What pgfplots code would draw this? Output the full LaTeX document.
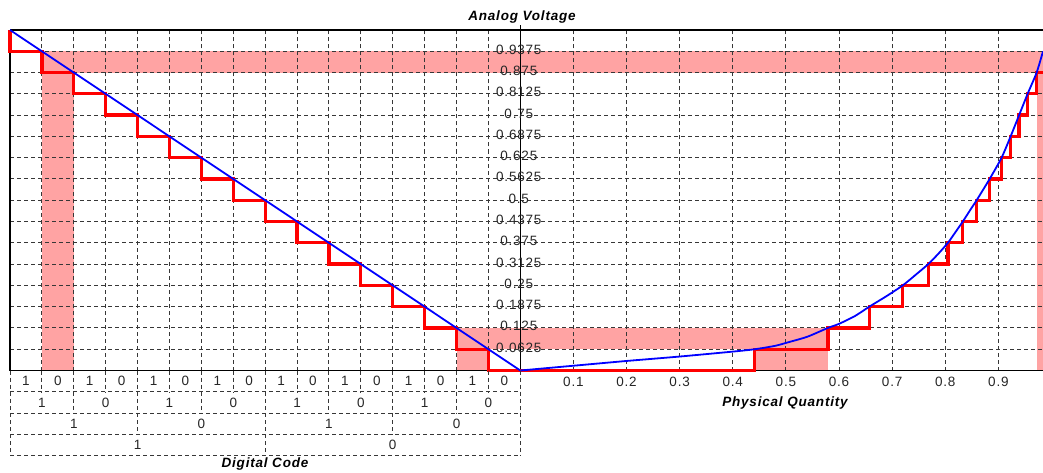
\documentclass[border=0pt]{standalone}
\usepackage{pgfplots}
\pgfplotsset{compat=1.18}
\usepackage{fontspec}
\setmainfont{Liberation Sans}
\newfontfamily\cf[LetterSpace=6]{Liberation Sans}
\definecolor{band}{RGB}{255,163,163}
\definecolor{gridc}{RGB}{55,55,55}
\definecolor{redline}{RGB}{255,0,0}
\definecolor{blueline}{RGB}{0,0,255}
\tikzset{gridline/.style={gridc, line width=1pt, dash pattern=on 4pt off 3pt}}
\pgfplotsset{
  every non boxed y axis/.append style={y axis line style={-}},
  every non boxed x axis/.append style={x axis line style={-}},
  common/.style={
    set layers, scale only axis, height=340.5pt, ymin=0, ymax=1,
    axis x line=box, axis y line=left,
    axis line style={black, line width=1.8pt},
    major tick length=0pt,
    ytick={0.0625,0.125,0.1875,0.25,0.3125,0.375,0.4375,0.5,0.5625,0.625,0.6875,0.75,0.8125,0.875,0.9375},
    grid=major, major grid style={gridline},
    clip=false,
    ticklabel style={font=\cf\fontsize{13.5}{15}\selectfont, text=black!85},
    /pgf/number format/assume math mode=true,
  },
  bandfill/.style={on layer=axis background, fill=band, draw=none, forget plot},
  redstep/.style={redline, line width=3.3pt, mark=none},
  bluecurve/.style={blueline, line width=1.8pt, mark=none},
}
\begin{document}
\begin{tikzpicture}
% ---------- left half: digital code ----------
\begin{axis}[common, at={(10pt,101.5pt)}, anchor=south west, width=510.3pt,
  xmin=-16, xmax=0, xtick={-15,-14,-13,-12,-11,-10,-9,-8,-7,-6,-5,-4,-3,-2,-1},
  xticklabels={}, yticklabels={}]
\addplot[bandfill] coordinates {(-15,0)(-14,0)(-14,0.9375)(-15,0.9375)} -- cycle;
\addplot[bandfill] coordinates {(-14,0.875)(0,0.875)(0,0.9375)(-14,0.9375)} -- cycle;
\addplot[bandfill] coordinates {(-2,0)(-1,0)(-1,0.125)(-2,0.125)} -- cycle;
\addplot[bandfill] coordinates {(-1,0.0625)(0,0.0625)(0,0.125)(-1,0.125)} -- cycle;
\addplot[redstep] coordinates {(-16,1)(-16,0.9375)(-15,0.9375)(-15,0.875)(-14,0.875)(-14,0.8125)(-13,0.8125)(-13,0.75)(-12,0.75)(-12,0.6875)(-11,0.6875)(-11,0.625)(-10,0.625)(-10,0.5625)(-9,0.5625)(-9,0.5)(-8,0.5)(-8,0.4375)(-7,0.4375)(-7,0.375)(-6,0.375)(-6,0.3125)(-5,0.3125)(-5,0.25)(-4,0.25)(-4,0.1875)(-3,0.1875)(-3,0.125)(-2,0.125)(-2,0.0625)(-1,0.0625)(-1,0)(0,0)};
\addplot[bluecurve] coordinates {(-16,1)(0,0)};
\end{axis}
% ---------- right half: physical quantity ----------
\begin{axis}[common, at={(520.3pt,101.5pt)}, anchor=south west, width=522.7pt,
  xmin=0, xmax=0.984,
  xtick={0.1,0.2,0.3,0.4,0.5,0.6,0.7,0.8,0.9},
  xticklabels={0.1,0.2,0.3,0.4,0.5,0.6,0.7,0.8,0.9},
  yticklabels={0.0625,0.125,0.1875,0.25,0.3125,0.375,0.4375,0.5,0.5625,0.625,0.6875,0.75,0.8125,0.875,0.9375},
  xticklabel style={anchor=center, yshift=-11pt},
  yticklabel style={anchor=center, xshift=-1.5pt, yshift=1.7pt},
  y axis line style={line width=1pt}]
\addplot[bandfill] coordinates {(0,0.875)(0.984,0.875)(0.984,0.9375)(0,0.9375)} -- cycle;
\addplot[bandfill] coordinates {(0.972,0)(0.984,0)(0.984,0.875)(0.972,0.875)} -- cycle;
\addplot[bandfill] coordinates {(0,0.0625)(0.579,0.0625)(0.579,0.125)(0,0.125)} -- cycle;
\addplot[bandfill] coordinates {(0.4415,0)(0.579,0)(0.579,0.0625)(0.4415,0.0625)} -- cycle;
\addplot[redstep] coordinates {(0,0)(0.4415,0)(0.4415,0.0625)(0.579,0.0625)(0.579,0.125)(0.657,0.125)(0.657,0.1875)(0.72,0.1875)(0.72,0.25)(0.768,0.25)(0.768,0.3125)(0.805,0.3125)(0.805,0.375)(0.833,0.375)(0.833,0.4375)(0.859,0.4375)(0.859,0.5)(0.8835,0.5)(0.8835,0.5625)(0.906,0.5625)(0.906,0.625)(0.923,0.625)(0.923,0.6875)(0.939,0.6875)(0.939,0.75)(0.955,0.75)(0.955,0.8125)(0.972,0.8125)(0.972,0.875)(0.984,0.875)};
\addplot[bluecurve, smooth, tension=0.4] coordinates {(0,0)(0.1,0.014)(0.2,0.028)(0.3,0.041)(0.4,0.0555)(0.4415,0.0625)(0.48,0.0725)(0.5,0.081)(0.54,0.099)(0.579,0.125)(0.6,0.137)(0.63,0.16)(0.657,0.1875)(0.69,0.219)(0.72,0.25)(0.745,0.282)(0.768,0.3125)(0.787,0.343)(0.805,0.375)(0.819,0.406)(0.833,0.4375)(0.846,0.469)(0.859,0.5)(0.8835,0.5625)(0.906,0.625)(0.923,0.6875)(0.939,0.75)(0.955,0.8125)(0.972,0.875)(0.984,0.9375)};
\end{axis}
% ---------- digital code table ----------
\begin{scope}[shift={(10pt,101.5pt)}, x=31.894pt, y=21.281pt]
  \foreach \r in {1,2,3,4} \draw[gridline] (0,-\r) -- (16,-\r);
  \foreach \k in {0,1,...,16} \draw[gridline] (\k,0) -- (\k,-1);
  \foreach \k in {0,2,...,16} \draw[gridline] (\k,-1) -- (\k,-2);
  \foreach \k in {0,4,...,16} \draw[gridline] (\k,-2) -- (\k,-3);
  \foreach \k in {0,8,16} \draw[gridline] (\k,-3) -- (\k,-4);
  \begin{scope}[every node/.style={font=\cf\fontsize{13.5}{15}\selectfont, text=black!85}]
  \foreach \b [count=\j from 0] in {1,0,1,0,1,0,1,0,1,0,1,0,1,0,1,0} \node at ({\j+0.5},-0.5) {\b};
  \foreach \b [count=\j from 0] in {1,0,1,0,1,0,1,0} \node at ({2*\j+1},-1.5) {\b};
  \foreach \b [count=\j from 0] in {1,0,1,0} \node at ({4*\j+2},-2.5) {\b};
  \foreach \b [count=\j from 0] in {1,0} \node at ({8*\j+4},-3.5) {\b};
  \end{scope}
\end{scope}
\draw[black, line width=1pt] (520.3pt,442pt) -- (520.3pt,447pt);
\node[font=\cf\bfseries\itshape\fontsize{13.5}{15}\selectfont, anchor=base] at (522pt,451pt) {Analog Voltage};
\node[font=\cf\bfseries\itshape\fontsize{13.5}{15}\selectfont, anchor=base] at (785pt,66pt) {Physical Quantity};
\node[font=\cf\bfseries\itshape\fontsize{13.5}{15}\selectfont, anchor=base] at (265pt,4.4pt) {Digital Code};
\pgfresetboundingbox
\path[use as bounding box] (0pt,0pt) rectangle (1043pt,472pt);
\end{tikzpicture}
\end{document}
